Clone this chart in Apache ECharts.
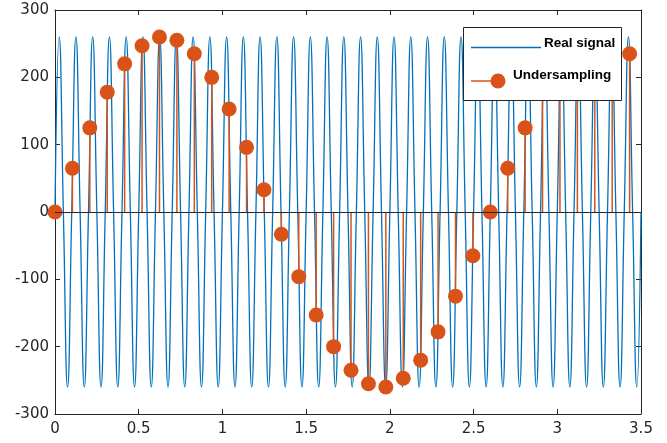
<!DOCTYPE html>
<html><head><meta charset="utf-8">
<script src="https://cdn.jsdelivr.net/npm/echarts@6/dist/echarts.min.js"></script>
<style>html,body{margin:0;padding:0;background:#fff}#c{width:667px;height:443px}</style>
</head><body><div id="c"></div>
<script>
// Real signal: peaks, zero crossings and troughs
const signalT = [
0,0.025,0.05,0.075,0.1,0.125,0.15,0.175,
0.2,0.225,0.25,0.275,0.3,0.325,0.35,0.375,
0.4,0.425,0.45,0.475,0.5,0.525,0.55,0.575,
0.6,0.625,0.65,0.675,0.7,0.725,0.75,0.775,
0.8,0.825,0.85,0.875,0.9,0.925,0.95,0.975,
1,1.025,1.05,1.075,1.1,1.125,1.15,1.175,
1.2,1.225,1.25,1.275,1.3,1.325,1.35,1.375,
1.4,1.425,1.45,1.475,1.5,1.525,1.55,1.575,
1.6,1.625,1.65,1.675,1.7,1.725,1.75,1.775,
1.8,1.825,1.85,1.875,1.9,1.925,1.95,1.975,
2,2.025,2.05,2.075,2.1,2.125,2.15,2.175,
2.2,2.225,2.25,2.275,2.3,2.325,2.35,2.375,
2.4,2.425,2.45,2.475,2.5,2.525,2.55,2.575,
2.6,2.625,2.65,2.675,2.7,2.725,2.75,2.775,
2.8,2.825,2.85,2.875,2.9,2.925,2.95,2.975,
3,3.025,3.05,3.075,3.1,3.125,3.15,3.175,
3.2,3.225,3.25,3.275,3.3,3.325,3.35,3.375,
3.4,3.425,3.45,3.475,3.5];
const signalV = [
0,260,0,-260,0,260,0,-260,
0,260,0,-260,0,260,0,-260,
0,260,0,-260,0,260,0,-260,
0,260,0,-260,0,260,0,-260,
0,260,0,-260,0,260,0,-260,
0,260,0,-260,0,260,0,-260,
0,260,0,-260,0,260,0,-260,
0,260,0,-260,0,260,0,-260,
0,260,0,-260,0,260,0,-260,
0,260,0,-260,0,260,0,-260,
0,260,0,-260,0,260,0,-260,
0,260,0,-260,0,260,0,-260,
0,260,0,-260,0,260,0,-260,
0,260,0,-260,0,260,0,-260,
0,260,0,-260,0,260,0,-260,
0,260,0,-260,0,260,0,-260,
0,260,0,-260,0,260,0,-260,
0,260,0,-260,0];
// Undersampled points
const sampleT = [0,0.104,0.208,0.312,0.416,0.52,0.624,0.728,0.832,0.936,1.04,1.144,1.248,1.352,1.456,1.56,1.664,1.768,1.872,1.976,2.08,2.184,2.288,2.392,2.496,2.6,2.704,2.808,2.912,3.016,3.12,3.224,3.328,3.432];
const sampleV = [0,65,125,178,220,247,260,255,235,200,153,96,33,-33,-96,-153,-200,-235,-255,-260,-247,-220,-178,-125,-65,0,65,125,178,220,247,260,255,235];
const xTickLabels = ['0','0.5','1','1.5','2','2.5','3','3.5'];
const yTickLabels = ['-300','-200','-100','0','100','200','300'];

const chart = echarts.init(document.getElementById('c'), null, {renderer:'canvas'});
const axisColor = '#262626';
const labelFont = {fontFamily:'DejaVu Sans', fontSize:15, color:axisColor};
function xAx(pos, show){
  return {type:'value', position:pos, min:0, max:3.5, interval:0.5,
    axisLine:{show:true, onZero:false, lineStyle:{color:axisColor, width:1}},
    axisTick:{show:true, inside:true, length:5, lineStyle:{color:axisColor}},
    axisLabel:Object.assign({show:show, margin:8, formatter:(v)=>xTickLabels[Math.round(v/0.5)]}, labelFont),
    splitLine:{show:false}};
}
function yAx(pos, show){
  return {type:'value', position:pos, min:-300, max:300, interval:100,
    axisLine:{show:true, onZero:false, lineStyle:{color:axisColor, width:1}},
    axisTick:{show:true, inside:true, length:5, lineStyle:{color:axisColor}},
    axisLabel:Object.assign({show:show, margin:6, formatter:(v)=>yTickLabels[Math.round((v+300)/100)]}, labelFont),
    splitLine:{show:false}};
}
const sampleData = sampleT.map((t,i)=>[t, sampleV[i]]);
chart.setOption({
  animation:false,
  backgroundColor:'#fff',
  grid:{left:55, top:10, right:26, bottom:29, containLabel:false},
  xAxis:[xAx('bottom', true), xAx('top', false)],
  yAxis:[yAx('left', true), yAx('right', false)],
  series:[
    {type:'line', name:'Real signal', data:signalT.map((t,i)=>[t, signalV[i]]),
      showSymbol:false, smooth:0.5, lineStyle:{color:'#0072BD', width:1.3}, z:2, silent:true},
    {type:'custom', name:'stems', data:sampleData, encode:{x:0, y:1}, z:3, silent:true,
      renderItem:(params, api)=>{
        const p0 = api.coord([api.value(0), 0]);
        const p1 = api.coord([api.value(0), api.value(1)]);
        return {type:'line', shape:{x1:p0[0], y1:p0[1], x2:p1[0], y2:p1[1]},
          style:{stroke:'#D95319', lineWidth:1.5}};
      },
      markLine:{silent:true, symbol:['none','none'], label:{show:false},
        lineStyle:{color:axisColor, width:1, type:'solid'}, data:[{yAxis:0}]}},
    {type:'scatter', name:'Undersampling', data:sampleData, symbol:'circle', symbolSize:15,
      itemStyle:{color:'#D95319', opacity:1}, z:4, silent:true}
  ],
  graphic:[
    {type:'rect', z:100, shape:{x:463.5, y:27.5, width:158, height:73},
      style:{fill:'#fff', stroke:axisColor, lineWidth:1}},
    {type:'line', z:101, shape:{x1:471, y1:47.5, x2:541, y2:47.5}, style:{stroke:'#0072BD', lineWidth:1.3}},
    {type:'text', z:101, x:544, y:43, style:{text:'Real signal', fill:'#000', font:'bold 13.5px "Liberation Sans", Arial, sans-serif', verticalAlign:'middle', align:'left'}},
    {type:'line', z:101, shape:{x1:471, y1:81, x2:498, y2:81}, style:{stroke:'#D95319', lineWidth:1.5}},
    {type:'circle', z:102, shape:{cx:498, cy:81, r:7.5}, style:{fill:'#D95319'}},
    {type:'text', z:101, x:513, y:75, style:{text:'Undersampling', fill:'#000', font:'bold 13.5px "Liberation Sans", Arial, sans-serif', verticalAlign:'middle', align:'left'}}
  ]
});
</script>
</body></html>
